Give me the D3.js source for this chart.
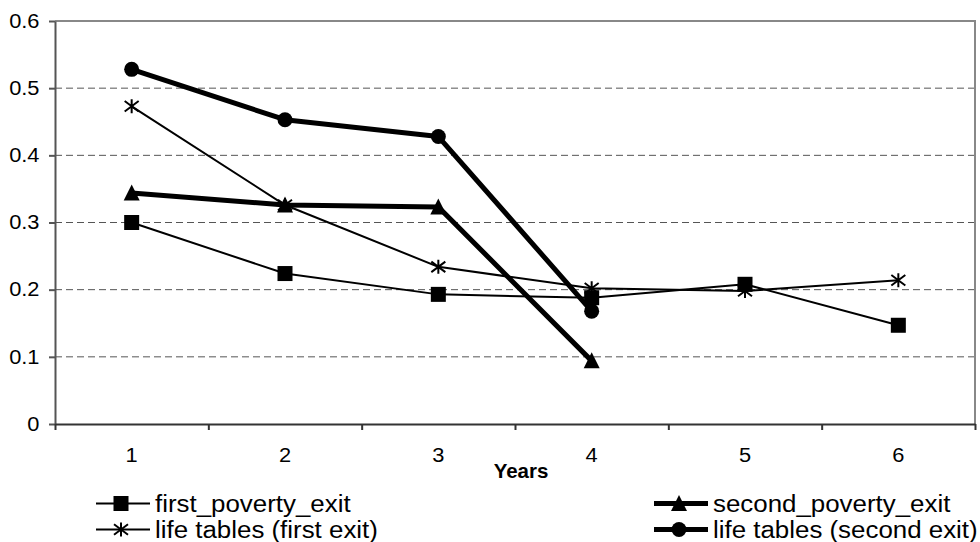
<!DOCTYPE html>
<html>
<head>
<meta charset="utf-8">
<script src="https://cdn.jsdelivr.net/npm/d3@7"></script>
<style>
  html, body { margin: 0; padding: 0; background: #fff; }
  svg { display: block; font-family: "Liberation Sans", Arial, sans-serif; }
</style>
</head>
<body>
<svg id="chart" width="980" height="542"></svg>
<script>
// Categories (years) and series values
const years = ["1", "2", "3", "4", "5", "6"];
const firstPovertyExit  = [0.300, 0.224, 0.193, 0.188, 0.208, 0.147];
const secondPovertyExit = [0.344, 0.326, 0.323, 0.094];
const lifeTablesFirst   = [0.473, 0.326, 0.234, 0.202, 0.198, 0.214];
const lifeTablesSecond  = [0.528, 0.453, 0.428, 0.168];
const yTicks = [0, 0.1, 0.2, 0.3, 0.4, 0.5, 0.6];
const yTickLabels = ["0", "0.1", "0.2", "0.3", "0.4", "0.5", "0.6"];
const xTitle = "Years";

const series = [
  { name: "first_poverty_exit", values: firstPovertyExit, marker: "square", width: 2 },
  { name: "second_poverty_exit", values: secondPovertyExit, marker: "triangle", width: 5 },
  { name: "life tables (first exit)", values: lifeTablesFirst, marker: "star", width: 2 },
  { name: "life tables (second exit)", values: lifeTablesSecond, marker: "circle", width: 5 }
];

const svg = d3.select("#chart");
const plot = { left: 55, right: 975, top: 21, bottom: 424 };
const tickFont = 19.5, tickStretch = 1.12;
const legendFont = 24.5, legendStretch = 1.057;

const x = d3.scaleBand().domain(years).range([plot.left, plot.right]).padding(0);
const y = d3.scaleLinear().domain([0, 0.6]).range([plot.bottom, plot.top]);
const cx = d => x(d) + x.bandwidth() / 2;

// Dashed horizontal gridlines
svg.append("g")
  .selectAll("line")
  .data(yTicks.filter(v => v > 0 && v < 0.6))
  .join("line")
  .attr("x1", plot.left).attr("x2", plot.right)
  .attr("y1", d => y(d)).attr("y2", d => y(d))
  .attr("stroke", "#555").attr("stroke-width", 1)
  .attr("stroke-dasharray", "7,4");

// Plot frame: top and right edges
svg.append("path")
  .attr("d", `M${plot.left},${plot.top}H${plot.right}V${plot.bottom}`)
  .attr("fill", "none").attr("stroke", "#888").attr("stroke-width", 2);

// Y axis
const yAxis = d3.axisLeft(y)
  .tickValues(yTicks)
  .tickFormat((d, i) => yTickLabels[i])
  .tickSizeInner(6).tickSizeOuter(0).tickPadding(9);
const gy = svg.append("g").attr("transform", `translate(${plot.left},0)`).call(yAxis);
gy.select(".domain").attr("stroke", "#555").attr("stroke-width", 2);
gy.selectAll(".tick line").attr("stroke", "#555").attr("stroke-width", 2);
gy.selectAll("text")
  .attr("font-size", tickFont).attr("fill", "#000")
  .attr("font-family", "Liberation Sans, Arial, sans-serif")
  .attr("x", -15.5 / tickStretch)
  .attr("transform", `scale(${tickStretch},1)`);

// X axis: ticks between categories, labels centred on categories
const xTickScale = d3.scaleLinear().domain([0, years.length]).range([plot.left, plot.right]);
const gx = svg.append("g").attr("transform", `translate(0,${plot.bottom})`);
gx.call(d3.axisBottom(xTickScale).ticks(years.length).tickFormat("").tickSizeInner(6).tickSizeOuter(0));
gx.select(".domain").attr("stroke", "#333").attr("stroke-width", 2);
gx.selectAll(".tick line").attr("stroke", "#333").attr("stroke-width", 2);

svg.append("g")
  .selectAll("text")
  .data(years)
  .join("text")
  .attr("transform", d => `translate(${cx(d)},462) scale(${tickStretch},1)`)
  .attr("text-anchor", "middle")
  .attr("font-size", tickFont)
  .text(d => d);

svg.append("text")
  .attr("x", 521).attr("y", 478)
  .attr("text-anchor", "middle")
  .attr("font-size", 20.5).attr("font-weight", "bold")
  .text(xTitle);

// Marker drawing
function drawMarker(g, type, px, py) {
  const s = 15;
  if (type === "square") {
    g.append("rect").attr("x", px - s / 2).attr("y", py - s / 2)
      .attr("width", s).attr("height", s).attr("fill", "#000");
  } else if (type === "triangle") {
    const h = s;
    g.append("path")
      .attr("d", `M${px},${py - h / 2 - 1}L${px + s / 2 + 0.5},${py + h / 2}L${px - s / 2 - 0.5},${py + h / 2}Z`)
      .attr("fill", "#000");
  } else if (type === "circle") {
    g.append("circle").attr("cx", px).attr("cy", py).attr("r", 7.5).attr("fill", "#000");
  } else if (type === "star") {
    const r = 7;
    g.append("path")
      .attr("d", `M${px - r},${py - r * 0.75}L${px + r},${py + r * 0.75}` +
                 `M${px - r},${py + r * 0.75}L${px + r},${py - r * 0.75}` +
                 `M${px},${py - r}L${px},${py + r}`)
      .attr("stroke", "#000").attr("stroke-width", 2).attr("fill", "none");
  }
}

const line = d3.line().x((d, i) => cx(years[i])).y(d => y(d));

series.forEach(s => {
  const g = svg.append("g");
  g.append("path")
    .datum(s.values)
    .attr("d", line)
    .attr("fill", "none")
    .attr("stroke", "#000")
    .attr("stroke-width", s.width)
    .attr("stroke-linejoin", "round");
  s.values.forEach((v, i) => drawMarker(g, s.marker, cx(years[i]), y(v)));
});

// Legend: two columns, two rows
const legendPos = [
  { lx: 96, row: 0 }, { lx: 654, row: 0 },
  { lx: 96, row: 1 }, { lx: 654, row: 1 }
];
series.forEach((s, i) => {
  const p = legendPos[i];
  const ly = 503.5 + p.row * 26;
  const g = svg.append("g");
  g.append("line")
    .attr("x1", p.lx).attr("x2", p.lx + 54)
    .attr("y1", ly).attr("y2", ly)
    .attr("stroke", "#000").attr("stroke-width", s.width);
  drawMarker(g, s.marker, p.lx + 25, ly);
  g.append("text")
    .attr("transform", `translate(${p.lx + 59},${ly + 8}) scale(${legendStretch},1)`)
    .attr("font-size", legendFont)
    .text(s.name);
});
</script>
</body>
</html>
